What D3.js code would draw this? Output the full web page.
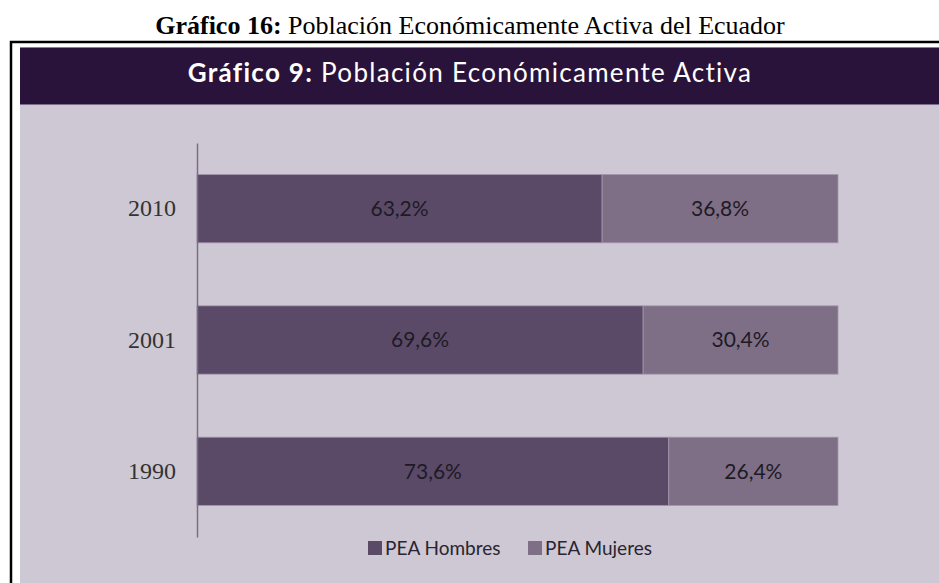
<!DOCTYPE html>
<html>
<head>
<meta charset="utf-8">
<script src="https://cdn.jsdelivr.net/npm/d3@7"></script>
<style>
  body { margin: 0; background: #fff; }
  svg { display: block; }
</style>
</head>
<body>
<div id="chart"></div>
<script>
var years   = ["2010", "2001", "1990"]
var hombres = [63.2, 69.6, 73.6]
var mujeres = [36.8, 30.4, 26.4]
var series  = ["PEA Hombres", "PEA Mujeres"]
var colors  = ["#5a4a68", "#7e6f87"]

var W = 939, H = 583

var svg = d3.select("#chart").append("svg")
  .attr("width", W)
  .attr("height", H)

// outer title (document caption)
var cap = svg.append("text")
  .attr("x", 470)
  .attr("y", 34)
  .attr("text-anchor", "middle")
  .style("font-family", "'Liberation Serif', 'Times New Roman', serif")
  .style("font-size", "26px")
  .attr("fill", "#000")
cap.append("tspan").style("font-weight", "bold").text("Gráfico 16:")
cap.append("tspan").text(" Población Económicamente Activa del Ecuador")

// black frame (left + top only, runs off the page)
svg.append("path")
  .attr("d", "M11," + H + "V42H" + W)
  .attr("fill", "none")
  .attr("stroke", "#000")
  .attr("stroke-width", 2.5)

// panel background
svg.append("rect")
  .attr("x", 20).attr("y", 105)
  .attr("width", W - 20).attr("height", H - 105)
  .attr("fill", "#cdc8d3")

// header band
svg.append("rect")
  .attr("x", 20).attr("y", 47)
  .attr("width", W - 20).attr("height", 58)
  .attr("fill", "#2a133a")
svg.append("line")
  .attr("x1", 20).attr("x2", W).attr("y1", 47.5).attr("y2", 47.5)
  .attr("stroke", "#8c7d9a").attr("stroke-width", 1)
svg.append("line")
  .attr("x1", 20).attr("x2", W).attr("y1", 104.5).attr("y2", 104.5)
  .attr("stroke", "#7d6d8c").attr("stroke-width", 1)

var head = svg.append("text")
  .attr("x", 470)
  .attr("y", 82)
  .attr("text-anchor", "middle")
  .style("font-family", "Lato, 'Open Sans', sans-serif")
  .style("font-size", "26px")
  .style("letter-spacing", "1.3px")
  .attr("fill", "#fff")
head.append("tspan").style("font-weight", "bold").text("Gráfico 9:")
head.append("tspan").text(" Población Económicamente Activa")

// scales
var x = d3.scaleLinear()
  .domain([0, 100])
  .range([197, 838])

var y = d3.scaleBand()
  .domain(years)
  .range([143, 537])
  .paddingInner(0.48)
  .paddingOuter(0.24)

var rows = years.map((yr, i) => ({ year: yr, vals: [hombres[i], mujeres[i]] }))

var stack = rows.map(r => {
  var acc = 0
  return r.vals.map((v, k) => {
    var seg = { year: r.year, k: k, v: v, x0: acc, x1: acc + v }
    acc += v
    return seg
  })
})

var g = svg.append("g")

g.selectAll("g.row")
  .data(stack)
  .enter().append("g")
  .attr("class", "row")
  .each(function(segs) {
    var row = d3.select(this)
    row.selectAll("rect")
      .data(segs)
      .enter().append("rect")
      .attr("x", d => x(d.x0))
      .attr("y", d => y(d.year))
      .attr("width", d => x(d.x1) - x(d.x0))
      .attr("height", y.bandwidth())
      .attr("fill", d => colors[d.k])
      .attr("stroke", "#a396ad")
      .attr("stroke-width", 0.8)
    row.selectAll("text")
      .data(segs)
      .enter().append("text")
      .attr("x", d => (x(d.x0) + x(d.x1)) / 2)
      .attr("y", d => y(d.year) + y.bandwidth() / 2)
      .attr("dy", "0.35em")
      .attr("text-anchor", "middle")
      .style("font-family", "Lato, 'Open Sans', sans-serif")
      .style("font-size", "21px")
      .attr("fill", "#1e1a24")
      .text(d => d.v.toFixed(1).replace(".", ",") + "%")
  })

// y axis
var axis = svg.append("g")
  .attr("transform", "translate(197,0)")
  .call(d3.axisLeft(y).tickSize(0).tickPadding(21))

axis.select(".domain")
  .attr("stroke", "#77707d")
  .attr("stroke-width", 1.5)
axis.selectAll("text")
  .style("font-family", "'Liberation Serif', 'Times New Roman', serif")
  .style("font-size", "24px")
  .attr("fill", "#333")

// legend
var legX = [368, 528]
var leg = svg.append("g")
leg.selectAll("g")
  .data(series)
  .enter().append("g")
  .attr("transform", (d, i) => "translate(" + legX[i] + ",541)")
  .each(function(d, i) {
    var it = d3.select(this)
    it.append("rect")
      .attr("width", 14).attr("height", 14)
      .attr("fill", colors[i])
    it.append("text")
      .attr("x", 17).attr("y", 7)
      .attr("dy", "0.35em")
      .style("font-family", "Lato, 'Open Sans', sans-serif")
      .style("font-size", "19px")
      .attr("fill", "#2a2430")
      .text(d)
  })
</script>
</body>
</html>
